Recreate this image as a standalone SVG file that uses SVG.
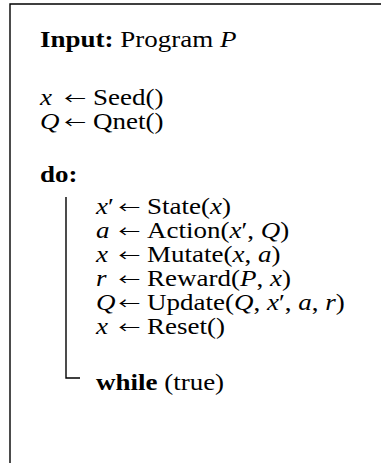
<svg xmlns="http://www.w3.org/2000/svg" width="381" height="463" viewBox="0 0 381 463">
<style>
text{font-family:"Liberation Serif","Times New Roman",serif;font-size:24px;fill:#000}
.b{font-weight:bold}
.i{font-style:italic}
.ar{font-family:"Noto Sans CJK JP","DejaVu Sans",sans-serif;font-size:16px;text-anchor:middle}
.frame{stroke:#000;stroke-width:1.4;fill:none}
</style>
<rect width="381" height="463" fill="#fff"/>
<path class="frame" d="M10,470 V4 H390"/>
<g id="connectors"><path class="frame" d="M66,197 V378 H80"/></g>
<g transform="scale(1.125,1)">
<g id="input"><text x="35.6" y="47"><tspan class="b">Input:</tspan> Program <tspan class="i">P</tspan></text></g>
<g id="init">
<text x="35.6" y="105" class="i">x</text><text x="82.7" y="105">Seed()</text>
<text x="35.6" y="129" class="i">Q</text><text x="82.7" y="129">Qnet()</text>
</g>
<g id="do"><text x="35.6" y="182" class="b">do:</text></g>
<g id="body">
<text x="85.3" y="214"><tspan class="i">x</tspan>′</text><text x="130.7" y="214">State(<tspan class="i">x</tspan>)</text>
<text x="85.3" y="238" class="i">a</text><text x="130.7" y="238">Action(<tspan class="i">x</tspan>′, <tspan class="i">Q</tspan>)</text>
<text x="85.3" y="262" class="i">x</text><text x="130.7" y="262">Mutate(<tspan class="i">x</tspan>, <tspan class="i">a</tspan>)</text>
<text x="85.3" y="286" class="i">r</text><text x="130.7" y="286">Reward(<tspan class="i">P</tspan>, <tspan class="i">x</tspan>)</text>
<text x="85.3" y="310" class="i">Q</text><text x="130.7" y="310">Update(<tspan class="i">Q</tspan>, <tspan class="i">x</tspan>′, <tspan class="i">a</tspan>, <tspan class="i">r</tspan>)</text>
<text x="85.3" y="334" class="i">x</text><text x="130.7" y="334">Reset()</text>
</g>
<g id="while"><text x="85.3" y="390"><tspan class="b">while</tspan> (true)</text></g>
</g>
<g id="arrows" transform="scale(1.35,1)">
<text x="55.6" y="104" class="ar">←</text>
<text x="55.6" y="128" class="ar">←</text>
<text x="95.8" y="213" class="ar">←</text>
<text x="95.8" y="237" class="ar">←</text>
<text x="95.8" y="261" class="ar">←</text>
<text x="95.8" y="285" class="ar">←</text>
<text x="95.8" y="309" class="ar">←</text>
<text x="95.8" y="333" class="ar">←</text>
</g>
</svg>
